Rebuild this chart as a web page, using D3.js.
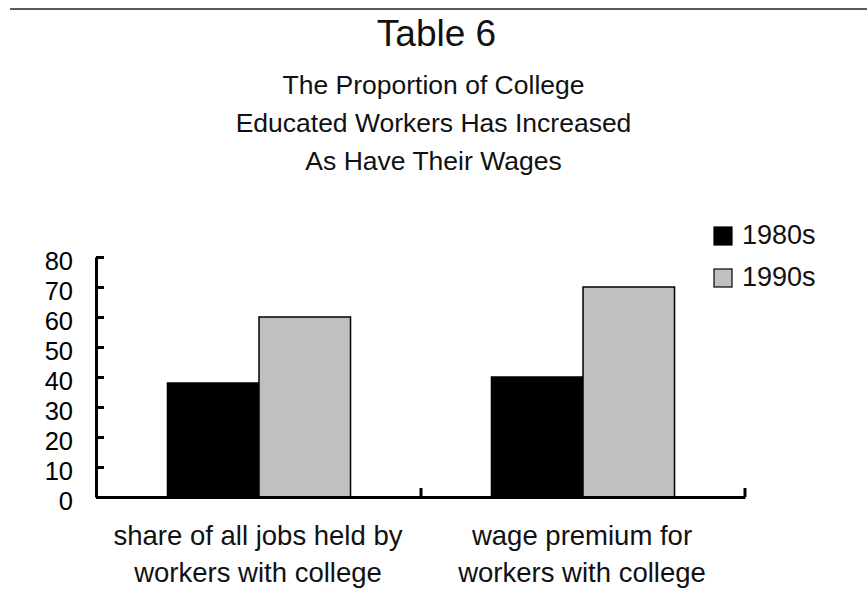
<!DOCTYPE html>
<html><head><meta charset="utf-8">
<script src="https://cdn.jsdelivr.net/npm/d3@7"></script>
<style>
html,body{margin:0;padding:0;background:#fff;}
svg{display:block;font-family:"Liberation Sans",Arial,sans-serif;}
</style></head>
<body>
<svg id="c" width="867" height="609"></svg>
<script>
const title = "Table 6";
const subtitle = ["The Proportion of College", "Educated Workers Has Increased", "As Have Their Wages"];
const categories = ["share", "wage"];
const categoryLabels = [["share of all jobs held by", "workers with college"], ["wage premium for", "workers with college"]];
const series = ["1980s", "1990s"];
const values1980s = [38, 40];
const values1990s = [60, 70];
const yTicks = [0, 10, 20, 30, 40, 50, 60, 70, 80];
const colors = ["#000000", "#c0c0c0"];

const svg = d3.select("#c");
const M = {left: 97, right: 745, top: 257, bottom: 497};

// top rule
svg.append("line").attr("x1", 10).attr("x2", 867).attr("y1", 9).attr("y2", 9)
  .attr("stroke", "#5a5a5a").attr("stroke-width", 2);

svg.append("text").attr("x", 436.5).attr("y", 46).attr("text-anchor", "middle")
  .attr("font-size", 37).attr("fill", "#111").text(title);

subtitle.forEach((s, i) => {
  svg.append("text").attr("x", 433.5).attr("y", 94 + i * 38).attr("text-anchor", "middle")
    .attr("font-size", 26.5).attr("fill", "#111").text(s);
});

const x0 = d3.scaleBand().domain(categories).range([M.left, M.right]).padding(0);
const x1 = d3.scaleBand().domain(series).range([0, x0.bandwidth()]).paddingInner(0).paddingOuter(0.77);
const y = d3.scaleLinear().domain([0, 80]).range([M.bottom, M.top]);

const data = categories.map((c, i) => ({c, vals: [values1980s[i], values1990s[i]]}));

const g = svg.append("g");
g.selectAll("g.cat").data(data).join("g").attr("class", "cat")
  .attr("transform", d => `translate(${x0(d.c)},0)`)
  .selectAll("rect").data(d => d.vals.map((v, j) => ({s: series[j], v, j})))
  .join("rect")
  .attr("x", d => x1(d.s)).attr("width", x1.bandwidth())
  .attr("y", d => y(d.v)).attr("height", d => y(0) - y(d.v))
  .attr("fill", d => colors[d.j]).attr("stroke", "#000").attr("stroke-width", 1.5);

// y axis
const ya = svg.append("g").attr("transform", `translate(${M.left - 1},0)`)
  .call(d3.axisLeft(y).tickValues(yTicks).tickSize(-8).tickPadding(23).tickSizeOuter(0));
ya.select(".domain").attr("stroke", "#000").attr("stroke-width", 3);
ya.selectAll(".tick line").attr("stroke", "#000").attr("stroke-width", 3);
ya.selectAll(".tick text").attr("font-size", 25.5).attr("fill", "#000")
  .attr("font-family", "'Liberation Sans',Arial,sans-serif").attr("dy", "0.48em");

// x axis
const xa = svg.append("g").attr("transform", `translate(0,${M.bottom})`)
  .call(d3.axisBottom(x0).tickSize(0).tickFormat(""));
xa.select(".domain").attr("stroke", "#000").attr("stroke-width", 3);
xa.selectAll(".tick").remove();
xa.selectAll("line.bt").data(categories).join("line").attr("class", "bt")
  .attr("x1", d => x0(d) + x0.bandwidth()).attr("x2", d => x0(d) + x0.bandwidth())
  .attr("y1", 0).attr("y2", -9).attr("stroke", "#000").attr("stroke-width", 3);

categoryLabels.forEach((lines, i) => {
  lines.forEach((t, k) => {
    svg.append("text").attr("x", x0(categories[i]) + x0.bandwidth() / 2 - 1)
      .attr("y", 545 + k * 37).attr("text-anchor", "middle")
      .attr("font-size", 27.5).attr("fill", "#111").text(t);
  });
});

// legend
const lg = svg.append("g").selectAll("g").data(series).join("g")
  .attr("transform", (d, i) => `translate(714,${227 + i * 42})`);
lg.append("rect").attr("width", 18).attr("height", 18)
  .attr("fill", (d, i) => colors[i]).attr("stroke", "#000").attr("stroke-width", 1.2);
lg.append("text").attr("x", 28).attr("y", 17).attr("font-size", 27).attr("fill", "#111")
  .text(d => d);
</script>
</body></html>
